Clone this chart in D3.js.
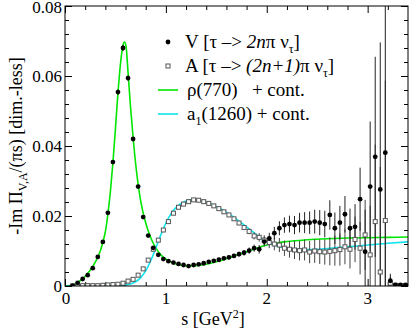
<html>
<head>
<script src="https://d3js.org/d3.v7.min.js"></script>
<style>
  body { margin: 0; background: white; }
  text { font-family: "Liberation Serif", "Times New Roman", serif; fill: black; }
</style>
</head>
<body>
<svg id="chart" width="409" height="331"></svg>
<script>
// bin centres (GeV^2)
const sBins = [0.075,0.125,0.175,0.225,0.275,0.325,0.375,0.425,0.475,0.525,
  0.575,0.625,0.675,0.725,0.775,0.825,0.875,0.925,0.975,1.025,
  1.075,1.125,1.175,1.225,1.275,1.325,1.375,1.425,1.475,1.525,
  1.575,1.625,1.675,1.725,1.775,1.825,1.875,1.925,1.975,2.025,
  2.075,2.125,2.175,2.225,2.275,2.325,2.375,2.425,2.475,2.525,
  2.575,2.625,2.675,2.725,2.775,2.825,2.875,2.925,2.975,3.025,
  3.075,3.125,3.175,3.225,3.275,3.325,3.375];

// vector channel
const vVal = [0.0001,0.0009,0.0020,0.0031,0.0051,0.0083,0.0126,0.0209,0.0354,0.0554,
  0.0680,0.0594,0.0420,0.0284,0.0197,0.0144,0.0109,0.0089,0.0077,0.0071,
  0.0067,0.0063,0.0060,0.0057,0.0060,0.0062,0.0065,0.0069,0.0072,0.0075,
  0.0079,0.0082,0.0086,0.0091,0.0095,0.0101,0.0108,0.0105,0.0127,0.0136,
  0.0151,0.0165,0.0174,0.0177,0.0174,0.0181,0.0181,0.0181,0.0184,0.0181,
  0.0177,0.0203,0.0165,0.0181,0.0205,0.0165,0.0169,0.0248,0.0098,0.0284,
  0.0369,0.0276,0.0381,0.0015,0.0003,0.0003,0.0003];
const vErr = [0.0002,0.0002,0.0002,0.0002,0.0003,0.0003,0.0004,0.0005,0.0006,0.0008,
  0.0009,0.0008,0.0006,0.0005,0.0004,0.0003,0.0003,0.0003,0.0003,0.0003,
  0.0003,0.0003,0.0003,0.0003,0.0003,0.0003,0.0004,0.0004,0.0004,0.0005,
  0.0005,0.0006,0.0006,0.0007,0.0008,0.0009,0.0010,0.0012,0.0014,0.0016,
  0.0018,0.0020,0.0022,0.0024,0.0026,0.0028,0.0030,0.0032,0.0034,0.0036,
  0.0038,0.0042,0.0045,0.0048,0.0052,0.0056,0.0065,0.0090,0.0120,0.0186,
  0.0286,0.0420,0.0600,0.0020,0.0004,0.0003,0.0003];

// axial-vector channel
const aVal = [0.0000,0.0001,0.0001,0.0001,0.0001,0.0001,0.0002,0.0003,0.0004,0.0005,
  0.0008,0.0014,0.0019,0.0031,0.0049,0.0074,0.0105,0.0131,0.0160,0.0184,
  0.0208,0.0225,0.0234,0.0241,0.0246,0.0245,0.0241,0.0236,0.0229,0.0221,
  0.0212,0.0203,0.0192,0.0180,0.0167,0.0156,0.0143,0.0139,0.0131,0.0124,
  0.0120,0.0117,0.0108,0.0105,0.0103,0.0101,0.0103,0.0097,0.0100,0.0098,
  0.0097,0.0099,0.0101,0.0104,0.0112,0.0105,0.0133,0.0108,0.0146,0.0089,
  0.0184,0.0040,0.0187,0.0008,0.0002,0.0001,0.0001];
const aErr = [0.0002,0.0002,0.0002,0.0002,0.0002,0.0002,0.0002,0.0002,0.0002,0.0002,
  0.0002,0.0002,0.0003,0.0003,0.0003,0.0003,0.0003,0.0003,0.0003,0.0003,
  0.0003,0.0003,0.0003,0.0003,0.0003,0.0003,0.0003,0.0004,0.0004,0.0004,
  0.0004,0.0005,0.0005,0.0006,0.0007,0.0008,0.0010,0.0012,0.0014,0.0016,
  0.0018,0.0020,0.0022,0.0024,0.0026,0.0028,0.0030,0.0032,0.0034,0.0035,
  0.0036,0.0040,0.0043,0.0046,0.0050,0.0055,0.0065,0.0075,0.0100,0.0140,
  0.0220,0.0300,0.0400,0.0020,0.0004,0.0003,0.0003];

// rho(770) + continuum
const rhoS = [0,0.05,0.1,0.15,0.2,0.25,0.3,0.35,0.375,0.4,0.425,0.45,0.475,0.5,0.525,0.55,0.575,0.59,0.605,0.625,
  0.65,0.675,0.7,0.725,0.75,0.8,0.85,0.9,0.95,1.0,1.1,1.2,1.3,1.4,1.5,1.6,1.7,1.8,1.9,2.0,2.2,2.4,2.6,2.8,3.0,3.2,3.4];
const rhoV = [0,0.0001,0.0006,0.0015,0.0028,0.0045,0.0068,0.0100,0.0125,0.0155,0.0205,0.0270,0.0352,0.0450,0.0552,0.0635,0.0688,0.0697,0.0685,0.0610,
  0.0510,0.0425,0.0350,0.0290,0.0243,0.0180,0.0138,0.0109,0.0089,0.0077,0.0063,0.0058,0.0058,0.0062,0.0069,0.0078,0.0088,0.0098,0.0108,0.0117,0.0127,0.0132,0.0135,0.0137,0.0138,0.0139,0.0140];

// a1(1260) + continuum
const a1S = [0,0.3,0.5,0.6,0.65,0.7,0.75,0.8,0.85,0.9,0.95,1.0,1.05,1.1,1.15,1.2,1.25,1.3,1.35,1.4,
  1.5,1.6,1.7,1.8,1.9,2.0,2.1,2.2,2.3,2.4,2.5,2.6,2.8,3.0,3.2,3.4];
const a1V = [0,0.0000,0.0001,0.0003,0.0006,0.0012,0.0024,0.0043,0.0072,0.0108,0.0146,0.0180,0.0206,0.0224,0.0236,0.0243,0.0246,0.0246,0.0244,0.0240,
  0.0227,0.0211,0.0191,0.0169,0.0146,0.0126,0.0114,0.0108,0.0105,0.0104,0.0105,0.0107,0.0112,0.0117,0.0122,0.0126];

const xMajor = [0,1,2,3];
const xMinor = [0.2,0.4,0.6,0.8,1.2,1.4,1.6,1.8,2.2,2.4,2.6,2.8,3.2];
const yMajor = [0,0.02,0.04,0.06,0.08];
const yMinor = [0.004,0.008,0.012,0.016,0.024,0.028,0.032,0.036,0.044,0.048,0.052,0.056,0.064,0.068,0.072,0.076];

const svg = d3.select('#chart');
const x = d3.scaleLinear().domain([0,3.4]).range([65,408]);
const y = d3.scaleLinear().domain([0,0.08]).range([286,6]);

svg.append('clipPath').attr('id','plot').append('rect')
  .attr('x',65).attr('y',6).attr('width',343).attr('height',280);

// ticks (inward, on all four sides)
function ticks(axis, vals, size, tr) {
  const g = svg.append('g').attr('transform', tr)
    .call(axis.tickValues(vals).tickSize(size).tickFormat(''));
  g.select('.domain').remove();
  g.selectAll('line').attr('stroke','black');
}
ticks(d3.axisBottom(x), xMajor, -7, 'translate(0,286)');
ticks(d3.axisBottom(x), xMinor, -4, 'translate(0,286)');
ticks(d3.axisTop(x), xMajor, -7, 'translate(0,6)');
ticks(d3.axisTop(x), xMinor, -4, 'translate(0,6)');
ticks(d3.axisLeft(y), yMajor, -7, 'translate(65,0)');
ticks(d3.axisLeft(y), yMinor, -4, 'translate(65,0)');
ticks(d3.axisRight(y), yMajor, -7, 'translate(408,0)');
ticks(d3.axisRight(y), yMinor, -4, 'translate(408,0)');

// tick labels
svg.append('g').selectAll('text').data(xMajor).enter().append('text')
  .attr('x', d => x(d) + (d === 0 ? 1 : 0)).attr('y', 304)
  .attr('text-anchor','middle').style('font-size','17px').text(d => d);
svg.append('g').selectAll('text').data(yMajor).enter().append('text')
  .attr('x', 62).attr('y', d => y(d) + (d === 0.08 ? 7 : 6))
  .attr('text-anchor','end').style('font-size','17px')
  .text(d => d === 0 ? '0' : d.toFixed(2));

// rich text helper: parts = [text, mode] with mode '', 'i', 'sub', 'sup'
function rich(t, parts) {
  let shift = 0;
  parts.forEach(p => {
    const want = p[1] === 'sub' ? 5 : p[1] === 'sup' ? -7 : 0;
    const ts = t.append('tspan').text(p[0]).attr('dy', want - shift);
    if (p[1] === 'i') ts.style('font-style','italic');
    if (p[1] === 'sub' || p[1] === 'sup') ts.style('font-size','12px');
    shift = want;
  });
  return t;
}

rich(svg.append('text').attr('x',213).attr('y',325).attr('text-anchor','middle').style('font-size','18px'),
  [['s [GeV',''],['2','sup'],[']','']]);
rich(svg.append('text').attr('transform','translate(22,146) rotate(-90)').attr('text-anchor','middle').style('font-size','18px'),
  [['-Im \u03A0',''],['V,A','sub'],['/(\u03C0s) [dim.-less]','']]);

const plot = svg.append('g').attr('clip-path','url(#plot)');

// model curves
const line = d3.line().x(d => x(d[0])).y(d => y(d[1])).curve(d3.curveMonotoneX);
plot.append('path').datum(rhoS.map((s,i) => [s, rhoV[i]]))
  .attr('d', line).attr('fill','none').attr('stroke','#00e600').attr('stroke-width',1.6);
plot.append('path').datum(a1S.map((s,i) => [s, a1V[i]]))
  .attr('d', line).attr('fill','none').attr('stroke','#10e4ee').attr('stroke-width',1.6);

// error bars
plot.append('g').selectAll('line').data(sBins).enter().append('line')
  .attr('x1', d => x(d)).attr('x2', d => x(d))
  .attr('y1', (d,i) => y(aVal[i] - aErr[i])).attr('y2', (d,i) => y(aVal[i] + aErr[i]))
  .attr('stroke','#444').attr('stroke-width',1);
plot.append('g').selectAll('line').data(sBins).enter().append('line')
  .attr('x1', d => x(d)).attr('x2', d => x(d))
  .attr('y1', (d,i) => y(vVal[i] - vErr[i])).attr('y2', (d,i) => y(vVal[i] + vErr[i]))
  .attr('stroke','#222').attr('stroke-width',1);

// A points (open squares)
plot.append('g').selectAll('rect').data(sBins).enter().append('rect')
  .attr('x', d => x(d) - 2).attr('y', (d,i) => y(aVal[i]) - 2)
  .attr('width',4).attr('height',4)
  .attr('fill','white').attr('stroke','#555').attr('stroke-width',1);

// V points (filled dots)
plot.append('g').selectAll('circle').data(sBins).enter().append('circle')
  .attr('cx', d => x(d)).attr('cy', (d,i) => y(vVal[i])).attr('r',2.4)
  .attr('fill','black');

// frame
svg.append('rect').attr('x',65).attr('y',6).attr('width',343).attr('height',280)
  .attr('fill','none').attr('stroke','black').attr('stroke-width',1);

// legend
const lg = svg.append('g');
lg.append('circle').attr('cx',168).attr('cy',42).attr('r',2.4).attr('fill','black');
lg.append('rect').attr('x',166).attr('y',64).attr('width',4).attr('height',4)
  .attr('fill','white').attr('stroke','#555');
lg.append('line').attr('x1',158).attr('x2',178).attr('y1',90).attr('y2',90)
  .attr('stroke','#00e600').attr('stroke-width',1.6);
lg.append('line').attr('x1',158).attr('x2',178).attr('y1',114).attr('y2',114)
  .attr('stroke','#10e4ee').attr('stroke-width',1.6);
rich(lg.append('text').attr('x',185).attr('y',48).style('font-size','19px'),
  [['V [\u03C4 \u2013> ',''],['2n','i'],['\u03C0 \u03BD',''],['\u03C4','sub'],[']','']]);
rich(lg.append('text').attr('x',185).attr('y',72).style('font-size','19px'),
  [['A [\u03C4 \u2013> ',''],['(2n+1)','i'],['\u03C0 \u03BD',''],['\u03C4','sub'],[']','']]);
lg.append('text').attr('x',187).attr('y',96).style('font-size','19px')
  .style('white-space','pre').text('\u03C1(770)   + cont.');
rich(lg.append('text').attr('x',187).attr('y',120).style('font-size','19px'),
  [['a',''],['1','sub'],['(1260) + cont.','']]);
</script>
</body>
</html>
